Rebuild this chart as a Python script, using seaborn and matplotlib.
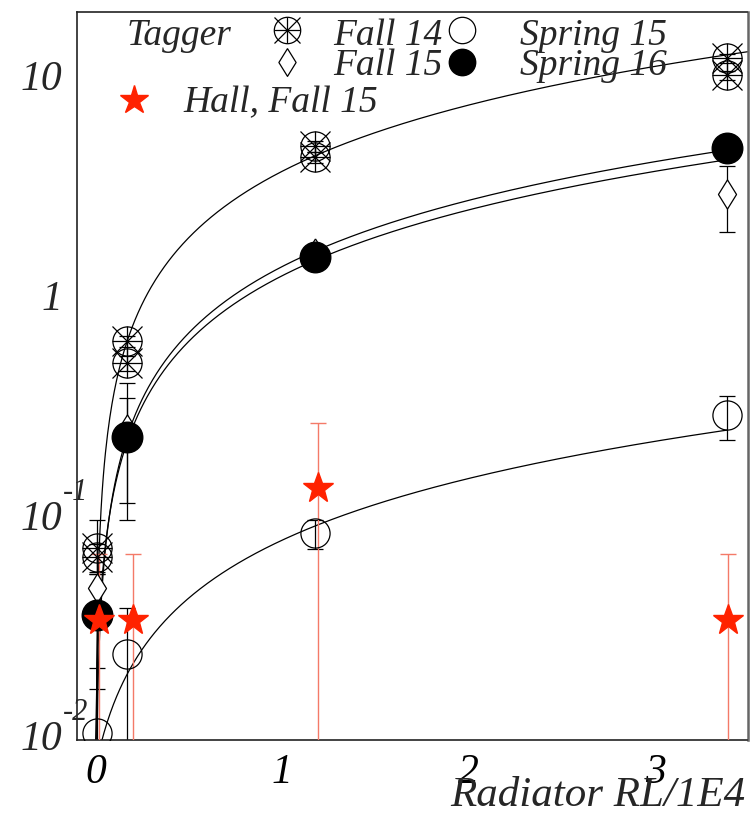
import numpy as np
import pandas as pd
import matplotlib
matplotlib.use("Agg")
import matplotlib.pyplot as plt
import matplotlib.transforms as mtransforms
from matplotlib.ticker import FixedLocator, LogLocator, MultipleLocator, NullFormatter
import seaborn as sns

# Radiator thickness (RL/1E4) of the tagger and hall measurements
tagger_x = [0.005, 0.17, 1.175, 3.385]
hall_x = [0.02, 0.2, 1.19, 3.39]

# Tagger rates per run period
fall14_a = [0.075, 0.65, 5.0, 12.6]
fall14_a_err = [0.025, 0.04, 0.3, 0.6]
fall14_b = [0.068, 0.515, 4.45, 10.5]
fall14_b_err = [0.01, 0.04, 0.25, 0.5]
spring15 = [0.0108, 0.0247, 0.087, 0.30]
spring15_err = [0.0105, 0.015, 0.0135, 0.068]
fall15 = [0.049, 0.26, 1.64, 3.05]
fall15_err = [0.008, 0.16, 0.1, 1.02]
spring16 = [0.037, 0.239, 1.57, 4.89]
spring16_err = [0.02, 0.12, 0.08, 0.2]

# Hall, Fall 15
hall15 = [0.035, 0.035, 0.14, 0.035]
hall15_err = [0.035, 0.035, 0.137, 0.035]

# Straight-line fits y = p0 + p1*x
fit_names = ["Fall 14", "Fall 15", "Spring 15", "Spring 16"]
fit_p0 = [0.0, 0.01, 0.0075, 0.0]
fit_p1 = [3.85, 1.28, 0.0735, 1.42]
fit_xmax = [3.5, 3.385, 3.385, 3.385]

xtick_vals = [0, 1, 2, 3]
xtick_labels = ["0", "1", "2", "3"]
ytick_vals = [0.01, 0.1, 1, 10]
ytick_base = ["10", "10", "1", "10"]
ytick_exp = ["-2", "-1", "", ""]

sns.set_theme(style="white")
plt.rcParams["font.family"] = ["Liberation Serif", "DejaVu Serif"]
plt.rcParams["font.style"] = "italic"

W, H = 751, 815
fig = plt.figure(figsize=(W / 100, H / 100), dpi=100)
ax = fig.add_axes([77 / W, 1 - 740 / H, (747.5 - 77) / W, (740 - 12) / H])


def fx(px):
    return px / W


def fy(py):
    return 1 - py / H


ax.set_yscale("log")
ax.set_xlim(-0.1, 3.495)
ax.set_ylim(0.01, 20.4)

# fitted lines
rows = []
for name, p0, p1, xm in zip(fit_names, fit_p0, fit_p1, fit_xmax):
    xs = np.linspace(0.0, xm, 600)
    rows.append(pd.DataFrame({"x": xs, "y": p0 + p1 * xs, "fit": name}))
fits = pd.concat(rows, ignore_index=True)
sns.lineplot(data=fits, x="x", y="y", units="fit", estimator=None, color="black",
             linewidth=0.9, ax=ax, legend=False, zorder=2)

ekw = dict(fmt="none", ecolor="black", elinewidth=0.9, capsize=6, capthick=0.9, zorder=2.5)
for vals, errs in [(fall14_a, fall14_a_err), (fall14_b, fall14_b_err),
                   (spring15, spring15_err), (fall15, fall15_err), (spring16, spring16_err)]:
    ax.errorbar(tagger_x, vals, yerr=errs, **ekw)
ax.errorbar(hall_x, hall15, yerr=hall15_err, fmt="none", ecolor="#f47a68",
            elinewidth=1.0, capsize=6, capthick=1.0, zorder=2.6)

diamond = [(0, 1), (0.62, 0), (0, -1), (-0.62, 0), (0, 1)]
MS = 21
STAR = "#ff2200"


def tagger_marker(xv, yv, ms, transform=None, z=4):
    kw = dict(linestyle="none", color="black", markeredgewidth=0.9, zorder=z, clip_on=False)
    if transform is not None:
        kw["transform"] = transform
    ax.plot(xv, yv, marker="o", markerfacecolor="none", markersize=ms, **kw)
    ax.plot(xv, yv, marker="+", markersize=ms, **kw)
    ax.plot(xv, yv, marker="x", markersize=ms, **kw)


# data markers
ax.plot(tagger_x, spring15, linestyle="none", marker="o", markersize=MS, markerfacecolor="none",
        markeredgecolor="black", markeredgewidth=0.9, zorder=3)
ax.plot(tagger_x, fall15, linestyle="none", marker=diamond, markersize=MS, markerfacecolor="white",
        markeredgecolor="black", markeredgewidth=0.9, zorder=3)
tagger_marker(tagger_x, fall14_a, MS)
tagger_marker(tagger_x, fall14_b, MS)
ax.plot(tagger_x, spring16, linestyle="none", marker="o", markersize=MS + 1, color="black", zorder=5)
ax.plot(hall_x, hall15, linestyle="none", marker="*", markersize=MS + 2, color=STAR,
        markeredgecolor=STAR, zorder=6)

# axes frame and ticks
for sp in ax.spines.values():
    sp.set_color("#222222")
    sp.set_linewidth(1.2)
ax.spines["right"].set_color("#666666")
ax.spines["right"].set_linewidth(1.8)
ax.set_xticks(xtick_vals)
ax.set_xticklabels(xtick_labels, fontsize=30)
ax.xaxis.set_minor_locator(MultipleLocator(0.2))
ax.yaxis.set_major_locator(FixedLocator(ytick_vals))
ax.yaxis.set_minor_locator(LogLocator(base=10, subs=np.arange(2, 10)))
ax.yaxis.set_major_formatter(NullFormatter())
ax.yaxis.set_minor_formatter(NullFormatter())
ax.tick_params(which="both", direction="in", top=False, right=False, colors="black", width=0.9)
ax.tick_params(axis="x", which="major", length=24, pad=10)
ax.tick_params(axis="x", which="minor", length=12)
ax.tick_params(axis="y", which="major", length=19)
ax.tick_params(axis="y", which="minor", length=10)
ax.set_xlabel("")
ax.set_ylabel("")

# y tick labels in exponent form
ylab_tr = mtransforms.blended_transform_factory(fig.transFigure, ax.transData)
exp_tr = mtransforms.offset_copy(ylab_tr, fig=fig, x=0, y=28, units="dots")
for v, base, ex in zip(ytick_vals, ytick_base, ytick_exp):
    ax.text(fx(62), v, base, transform=ylab_tr, ha="right", va="center", fontsize=30, clip_on=False)
    if ex:
        ax.text(fx(63), v, ex, transform=exp_tr, ha="left", va="center", fontsize=22, clip_on=False)

fig.text(fx(745), fy(806), "Radiator RL/1E4", ha="right", va="baseline", fontsize=31)

# legend
ft = fig.transFigure
LMS = 19
tagger_marker([fx(287)], [fy(30)], LMS, transform=ft, z=7)
ax.plot([fx(462)], [fy(30)], marker="o", markersize=LMS, markerfacecolor="none", markeredgecolor="black",
        markeredgewidth=0.9, transform=ft, clip_on=False, zorder=7)
ax.plot([fx(287)], [fy(62)], marker=diamond, markersize=LMS + 1, markerfacecolor="white",
        markeredgecolor="black", markeredgewidth=0.9, transform=ft, clip_on=False, zorder=7)
ax.plot([fx(462)], [fy(62)], marker="o", markersize=LMS, color="black", transform=ft, clip_on=False, zorder=7)
ax.plot([fx(134)], [fy(100)], marker="*", markersize=LMS + 2, color=STAR, transform=ft, clip_on=False, zorder=7)

LFS = 27
fig.text(fx(127), fy(45), "Tagger", fontsize=LFS, va="baseline")
fig.text(fx(333), fy(45), "Fall 14", fontsize=LFS, va="baseline")
fig.text(fx(520), fy(45), "Spring 15", fontsize=LFS, va="baseline")
fig.text(fx(333), fy(75), "Fall 15", fontsize=LFS, va="baseline")
fig.text(fx(520), fy(75), "Spring 16", fontsize=LFS, va="baseline")
fig.text(fx(183), fy(112), "Hall, Fall 15", fontsize=LFS, va="baseline")

fig.savefig("out.png", dpi=100, facecolor="white")
